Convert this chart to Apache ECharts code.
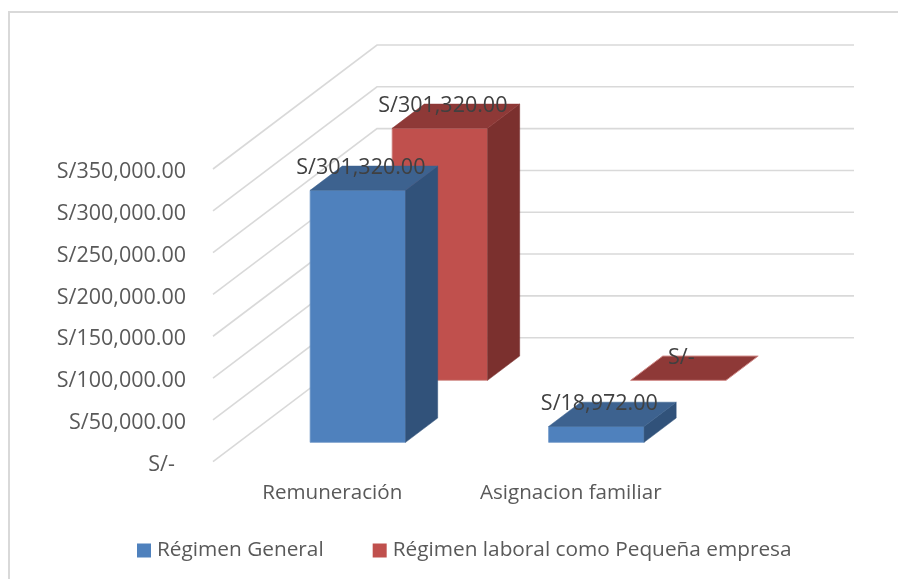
<!DOCTYPE html>
<html>
<head>
<meta charset="utf-8">
<style>
  html, body { margin: 0; padding: 0; background: #fff; }
  #main { width: 898px; height: 579px; }
</style>
<script src="https://cdn.jsdelivr.net/npm/echarts@6/dist/echarts.min.js"></script>
</head>
<body>
<div id="main"></div>
<script>
var categories = ["Remuneración", "Asignacion familiar"];
var regimenGeneral = [301320, 18972];
var regimenPequena = [301320, 0];
var yTicks = [0, 50000, 100000, 150000, 200000, 250000, 300000, 350000];
var nameGeneral = "Régimen General";
var namePequena = "Régimen laboral como Pequeña empresa";

var FONT = '"Open Sans", "Noto Sans", sans-serif';
// profundidad total del piso 3D
var DEPTH_X = 164;
var DEPTH_Y = -124;

function money(v) {
  if (v === 0) return "S/-";
  return "S/" + v.toLocaleString("en-US", { minimumFractionDigits: 2, maximumFractionDigits: 2 });
}

function renderGrid(params, api) {
  var y = api.coord([0, api.value(0)])[1];
  var x0 = params.coordSys.x;
  var x1 = x0 + params.coordSys.width;
  return {
    type: "polyline",
    shape: { points: [[x0, y], [x0 + DEPTH_X, y + DEPTH_Y], [x1 + DEPTH_X, y + DEPTH_Y]] },
    style: { stroke: "#d9d9d9", lineWidth: 1.6, fill: null }
  };
}

// caja 3D: front, top y side salen de la misma escala
function boxRenderer(depthStart, colors) {
  var depthLen = 0.196;
  return function (params, api) {
    var base = api.coord([api.value(0), 0]);
    var top = api.coord([api.value(0), api.value(1)]);
    var w = api.size([1, 0])[0] * 0.4;
    var ox = DEPTH_X * depthStart, oy = DEPTH_Y * depthStart;
    var dx = DEPTH_X * depthLen, dy = DEPTH_Y * depthLen;
    var l = base[0] - w / 2 + ox, r = l + w;
    var b = base[1] + oy, t = top[1] + oy;
    var flat = b - t <= 0.5;
    var children = [];
    if (!flat) {
      children.push({
        type: "polygon",
        shape: { points: [[l, t], [r, t], [r, b], [l, b]] },
        style: { fill: colors.front, stroke: colors.edge, lineWidth: 0.8 }
      });
      children.push({
        type: "polygon",
        shape: { points: [[r, t], [r + dx, t + dy], [r + dx, b + dy], [r, b]] },
        style: { fill: colors.side, stroke: colors.side, lineWidth: 0.5 }
      });
    }
    children.push({
      type: "polygon",
      shape: { points: [[l, t], [l + dx, t + dy], [r + dx, t + dy], [r, t]] },
      style: { fill: colors.top, stroke: flat ? colors.edge : colors.top, lineWidth: flat ? 1 : 0.5 }
    });
    children.push({
      type: "text",
      style: {
        text: money(api.value(1)),
        x: (l + r) / 2 + 3,
        y: t + dy + 2,
        align: "center",
        verticalAlign: "middle",
        fill: "#404040",
        font: '21.5px ' + FONT
      }
    });
    return { type: "group", children: children };
  };
}

function toPairs(values) {
  return values.map(function (v, i) { return [i, v]; });
}

var chart = echarts.init(document.getElementById("main"));
chart.setOption({
  animation: false,
  backgroundColor: "#fff",
  graphic: [{
    type: "rect",
    shape: { x: 9, y: 12, width: 1000, height: 1000 },
    style: { fill: null, stroke: "#d9d9d9", lineWidth: 2 },
    silent: true,
    z: 0
  }],
  legend: {
    data: [nameGeneral, namePequena],
    left: 132,
    top: 535,
    icon: "rect",
    itemWidth: 14,
    itemHeight: 14,
    itemGap: 49,
    textStyle: { color: "#595959", fontFamily: FONT, fontSize: 20.8, padding: [0, 0, 0, 1] }
  },
  grid: { left: 213, top: 169, width: 477, height: 292.7 },
  xAxis: {
    type: "category",
    data: categories,
    axisLine: { show: false },
    axisTick: { show: false },
    axisLabel: { color: "#595959", fontFamily: FONT, fontSize: 20.6, margin: 21, interval: 0 }
  },
  yAxis: {
    type: "value",
    min: 0,
    max: 350000,
    interval: 50000,
    axisLine: { show: false },
    axisTick: { show: false },
    splitLine: { show: false },
    axisLabel: {
      color: "#595959",
      fontFamily: FONT,
      fontSize: 21.5,
      margin: 27,
      verticalAlign: "top",
      padding: [-8, 0, 0, 0],
      formatter: function (v) { return v === 0 ? "S/-  " : money(v); }
    }
  },
  series: [
    {
      type: "custom",
      name: "grid3d",
      coordinateSystem: "cartesian2d",
      silent: true,
      z: 1,
      data: yTicks.map(function (v) { return [v]; }),
      encode: { y: 0 },
      renderItem: renderGrid
    },
    {
      type: "custom",
      name: namePequena,
      coordinateSystem: "cartesian2d",
      z: 2,
      itemStyle: { color: "#c0504d" },
      data: toPairs(regimenPequena),
      encode: { x: 0, y: 1 },
      renderItem: boxRenderer(0.656, { front: "#c0504d", top: "#8e3937", side: "#7b302e", edge: "#d08a88" })
    },
    {
      type: "custom",
      name: nameGeneral,
      coordinateSystem: "cartesian2d",
      z: 3,
      itemStyle: { color: "#4f81bd" },
      data: toPairs(regimenGeneral),
      encode: { x: 0, y: 1 },
      renderItem: boxRenderer(0.156, { front: "#4f81bd", top: "#3d628f", side: "#31527a", edge: "#6f97c8" })
    }
  ]
});
</script>
</body>
</html>
